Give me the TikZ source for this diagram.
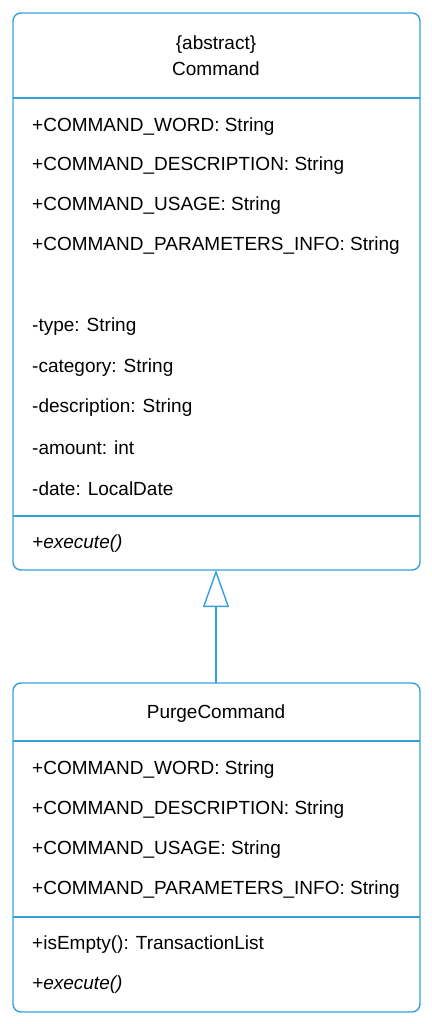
\documentclass[tikz,border=0pt]{standalone}
\usepackage{fontspec}
\setmainfont{Liberation Sans}
\usetikzlibrary{arrows.meta}
\definecolor{umlblue}{RGB}{52,160,219}
\tikzset{
  x=1pt,y=-1pt,
  box/.style={draw=umlblue,line width=1.4pt,rounded corners=8pt},
  sep/.style={draw=umlblue,line width=1.4pt},
  attr/.style={anchor=west,inner sep=0pt,font=\fontsize{19}{22}\selectfont},
  title/.style={anchor=center,inner sep=0pt,font=\fontsize{19}{22}\selectfont},
  inherit/.style={draw=umlblue,line width=1.4pt,-{Triangle[open,length=37pt,width=26pt]}}
}
\begin{document}
\begin{tikzpicture}
\useasboundingbox (0,0) rectangle (431,1024);
% Command box
\draw[box] (13,13) rectangle (420,570);
\coordinate (cmdtop) at (216,570);
\draw[sep] (13,98) -- (420,98);
\draw[sep] (13,516) -- (420,516);
\node[title] (abs) at (216,45) {\{abstract\}};
\node[title] (cmd) at (216,69) {Command};
\node[attr] (a1) at (32,127) {+COMMAND\_WORD: String};
\node[attr] (a2) at (32,166) {+COMMAND\_DESCRIPTION: String};
\node[attr] (a3) at (32,206) {+COMMAND\_USAGE: String};
\node[attr] (a4) at (32,246) {+COMMAND\_PARAMETERS\_INFO: String};
\node[attr] (a5) at (32,327) {-type: String};
\node[attr] (a6) at (32,368) {-category: String};
\node[attr] (a7) at (32,408) {-description: String};
\node[attr] (a8) at (32,448) {-amount: int};
\node[attr] (a9) at (32,489) {-date: LocalDate};
\node[attr] (m1) at (32,544) {\itshape +execute()};
% PurgeCommand box
\draw[box] (13,683) rectangle (420,1012);
\coordinate (purgetop) at (216,683);
\draw[sep] (13,741) -- (420,741);
\draw[sep] (13,917) -- (420,917);
\node[title] (purge) at (216,714) {PurgeCommand};
\node[attr] (b1) at (32,770) {+COMMAND\_WORD: String};
\node[attr] (b2) at (32,810) {+COMMAND\_DESCRIPTION: String};
\node[attr] (b3) at (32,850) {+COMMAND\_USAGE: String};
\node[attr] (b4) at (32,890) {+COMMAND\_PARAMETERS\_INFO: String};
\node[attr] (c1) at (32,945) {+isEmpty(): TransactionList};
\node[attr] (c2) at (32,985) {\itshape +execute()};
% inheritance
\draw[inherit] (purgetop) -- (cmdtop);
\end{tikzpicture}
\end{document}
